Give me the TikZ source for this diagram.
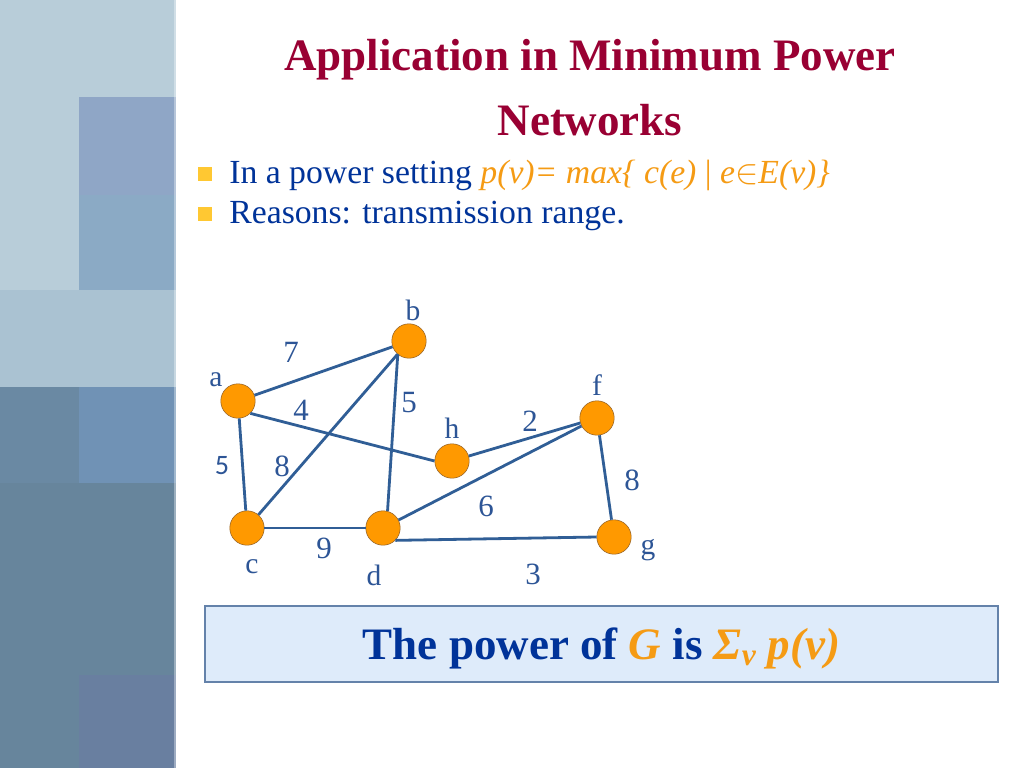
\documentclass[tikz,border=0pt]{standalone}
\usepackage{fontspec}
\setmainfont{Liberation Serif}
\newfontfamily\sansfive{Carlito}
\usetikzlibrary{positioning}
\definecolor{titlered}{RGB}{153,0,51}
\definecolor{textblue}{RGB}{0,51,153}
\definecolor{hiorange}{RGB}{245,155,20}
\definecolor{bulletyel}{RGB}{255,200,50}
\definecolor{edgeblue}{RGB}{48,94,150}
\definecolor{lblblue}{RGB}{45,85,150}
\definecolor{vfill}{RGB}{255,153,0}
\definecolor{vline}{RGB}{150,100,40}
\definecolor{boxfill}{RGB}{222,235,250}
\definecolor{boxline}{RGB}{100,130,170}
\definecolor{S1}{RGB}{184,205,217}
\definecolor{S2}{RGB}{143,166,198}
\definecolor{S3}{RGB}{139,170,197}
\definecolor{S4}{RGB}{170,194,210}
\definecolor{S5}{RGB}{106,137,163}
\definecolor{S6}{RGB}{112,146,181}
\definecolor{S7}{RGB}{103,133,156}
\definecolor{S8}{RGB}{105,127,160}
\newcommand{\sideblock}[5]{\fill[#1] (#2,#3) rectangle (#4,#5);}
\tikzset{
  vertex/.style={circle,draw=vline,line width=0.4pt,fill=vfill,minimum size=8.6mm,inner sep=0pt},
  edge/.style={draw=edgeblue,line width=0.7mm},
  vname/.style={text=lblblue,font=\fontsize{21}{21}\selectfont,inner sep=0pt},
  wlabel/.style={text=lblblue,font=\fontsize{22}{22}\selectfont,inner sep=0pt},
  bullet/.style={fill=bulletyel,minimum size=3.5mm,inner sep=0pt},
  btext/.style={anchor=base west,text=textblue,font=\fontsize{24}{24}\selectfont,inner sep=0pt},
  title/.style={anchor=base,text=titlered,font=\fontsize{32}{32}\bfseries\selectfont,inner sep=0pt}
}
\begin{document}
\begin{tikzpicture}[x=0.25mm,y=-0.25mm]
\fill[white] (0,0) rectangle (1024,768);
% side bar
\sideblock{S1}{0}{0}{176}{290}
\sideblock{S2}{79}{97}{176}{195}
\sideblock{S3}{79}{195}{176}{290}
\sideblock{S4}{0}{290}{176}{387}
\sideblock{S5}{0}{387}{79}{483}
\sideblock{S6}{79}{387}{176}{483}
\sideblock{S7}{0}{483}{176}{768}
\sideblock{S8}{79}{675}{176}{768}
\fill[white,opacity=.35] (174,0) rectangle (177,768);
% title
\node[title] (title1) at (590,70) {Application in Minimum Power};
\node[title] (title2) at (590,135) {Networks};
% bullets
\node[bullet] (b1) at (205,174) {};
\node[bullet] (b2) at (205,214) {};
\node[btext] (t1) at (229,183) {In a power setting \textcolor{hiorange}{\itshape p(v)= max\{ c(e) \textup{|} e$\in$E(v)\}}};
\node[btext] (t2) at (229,223) {Reasons: transmission range.};
% graph
\node[vertex] (a) at (238,401) {};
\node[vertex] (b) at (409,341) {};
\node[vertex] (c) at (247,528) {};
\node[vertex] (d) at (383,528) {};
\node[vertex] (h) at (452,461) {};
\node[vertex] (f) at (597,418) {};
\node[vertex] (g) at (614,537) {};
\foreach \u/\v in {a/b,a/c,b/c,h/f,d/f,f/g,c/d}
  \draw[edge] (\u)--(\v);
\draw[edge] (a.-45)--(h.west);
\draw[edge] (b.-130)--(d.75);
\draw[edge] (d.-45)--(g.west);
\foreach \n/\x/\y in {a/216/380,b/413/310,c/252/567,d/374/575,f/597/385,g/648/550,h/452/428}
  \node[vname] (lbl-\n) at (\x,\y) {\n};
\foreach \n/\w/\x/\y in {ab/7/291/352,ah/4/301/410,bd/5/409/403,hf/2/530/421,bc/8/282/466,fg/8/632/480,df/6/486/506,cd/9/324/548,dg/3/533/574}
  \node[wlabel] (w-\n) at (\x,\y) {\w};
\node[wlabel,font=\sansfive\fontsize{20}{20}\selectfont] (w-ac) at (222,466) {5};
% power box
\node[draw=boxline,fill=boxfill,line width=0.3mm,minimum width=198.2mm,minimum height=19mm,inner sep=0pt] (powerbox) at (601.5,644) {};
\node[font=\fontsize{32}{32}\bfseries\selectfont,text=textblue,inner sep=0pt] (powertext) at ([yshift=-1.2mm]powerbox.center)
  {The power of \textcolor{hiorange}{\itshape G} is \textcolor{hiorange}{\itshape Σ\textsubscript{v} p(v)}};
\end{tikzpicture}
\end{document}
